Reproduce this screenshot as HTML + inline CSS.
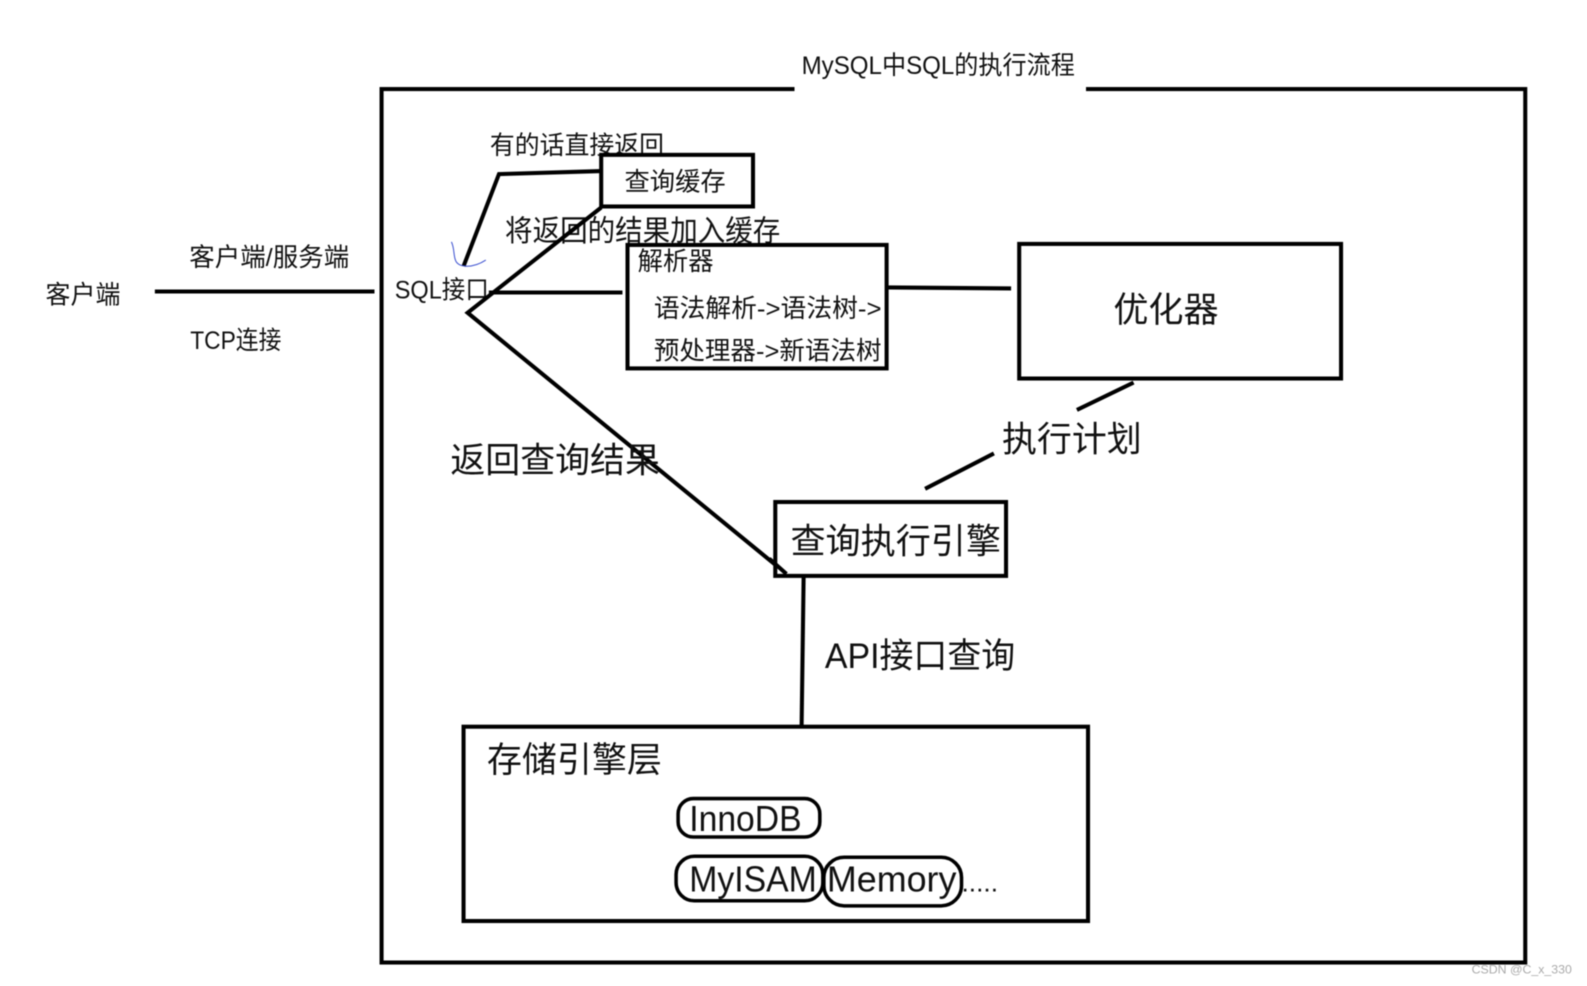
<!DOCTYPE html>
<html><head><meta charset="utf-8"><style>
html,body{margin:0;padding:0;background:#fff;width:1587px;height:986px;overflow:hidden}
svg{display:block;filter:blur(0.4px)}
text{font-family:"Liberation Sans","Noto Sans CJK SC",sans-serif;fill:#111;font-weight:400}
.l{stroke:#000;fill:none;stroke-width:4;stroke-linecap:butt}
.b{stroke:#000;fill:#fff;stroke-width:4}
.r{stroke:#000;fill:none;stroke-width:3.5}
</style></head><body>
<svg width="1587" height="986" viewBox="0 0 1568 974.2" xmlns="http://www.w3.org/2000/svg">
<rect width="1568" height="975" fill="#fff"/>
<rect class="l" x="377" y="88" width="1130" height="863"/>
<rect x="785" y="80" width="288" height="16" fill="#fff"/>
<text x="792" y="73" font-size="25" textLength="270" lengthAdjust="spacingAndGlyphs">MySQL中SQL的执行流程</text>

<text x="45" y="300" font-size="25" textLength="74" lengthAdjust="spacingAndGlyphs">客户端</text>
<text x="187" y="263" font-size="25" textLength="158" lengthAdjust="spacingAndGlyphs">客户端/服务端</text>
<text x="188" y="345" font-size="25" textLength="90" lengthAdjust="spacingAndGlyphs">TCP连接</text>
<line class="l" x1="153" y1="288" x2="370" y2="288"/>
<text x="390" y="295" font-size="25" textLength="93" lengthAdjust="spacingAndGlyphs">SQL接口</text>

<text x="484" y="152" font-size="25" textLength="172" lengthAdjust="spacingAndGlyphs">有的话直接返回</text>
<text x="499" y="238" font-size="29" textLength="272" lengthAdjust="spacingAndGlyphs">将返回的结果加入缓存</text>
<polyline class="l" points="458,263 493,172 594,169"/>
<rect class="b" x="594" y="153" width="150" height="51"/>
<text x="617" y="188" font-size="25" textLength="100" lengthAdjust="spacingAndGlyphs">查询缓存</text>
<path d="M446,239 C449,245 448,252 450,257 C452,264 466,266 480,257" fill="none" stroke="#3a4fd0" stroke-width="1"/>
<polyline class="l" points="594,205 462,309 777,567"/>
<line class="l" x1="483" y1="289" x2="615" y2="289"/>

<rect class="b" x="620" y="242" width="256" height="122"/>
<text x="630" y="267" font-size="25" textLength="75" lengthAdjust="spacingAndGlyphs">解析器</text>
<text x="646" y="313" font-size="25" textLength="225" lengthAdjust="spacingAndGlyphs">语法解析-&gt;语法树-&gt;</text>
<text x="646" y="355" font-size="25" textLength="225" lengthAdjust="spacingAndGlyphs">预处理器-&gt;新语法树</text>
<line class="l" x1="876" y1="284" x2="999" y2="285"/>

<rect class="b" x="1007" y="241" width="318" height="133"/>
<text x="1100" y="318" font-size="35" textLength="104" lengthAdjust="spacingAndGlyphs">优化器</text>

<line class="l" x1="1120" y1="378" x2="1064" y2="405"/>
<text x="990" y="446" font-size="35" textLength="138" lengthAdjust="spacingAndGlyphs">执行计划</text>
<line class="l" x1="982" y1="448" x2="914" y2="483"/>
<text x="445" y="467" font-size="35" textLength="207" lengthAdjust="spacingAndGlyphs">返回查询结果</text>

<rect class="b" x="766" y="496" width="228" height="73"/>
<line class="l" x1="760" y1="552" x2="777" y2="567"/>
<text x="781" y="547" font-size="35" textLength="208" lengthAdjust="spacingAndGlyphs">查询执行引擎</text>
<line class="l" x1="794" y1="570" x2="792" y2="718"/>
<text x="815" y="660" font-size="35" textLength="188" lengthAdjust="spacingAndGlyphs">API接口查询</text>

<rect class="b" x="458" y="718" width="617" height="192"/>
<text x="481" y="763" font-size="35" textLength="173" lengthAdjust="spacingAndGlyphs">存储引擎层</text>
<rect class="r" x="670" y="789" width="140" height="38" rx="15"/>
<text x="681" y="821" font-size="36" textLength="111" lengthAdjust="spacingAndGlyphs">InnoDB</text>
<rect class="r" x="668" y="846" width="145" height="44" rx="18"/>
<rect class="r" x="814" y="847" width="136" height="48" rx="20"/>
<text x="681" y="881" font-size="36" textLength="126" lengthAdjust="spacingAndGlyphs">MyISAM</text>
<text x="817" y="881" font-size="36" textLength="128" lengthAdjust="spacingAndGlyphs">Memory</text>
<text x="950" y="881" font-size="26">.....</text>

<text x="1454" y="962" font-size="12" textLength="99" lengthAdjust="spacingAndGlyphs" style="fill:#aaa">CSDN @C_x_330</text>
</svg>
</body></html>
